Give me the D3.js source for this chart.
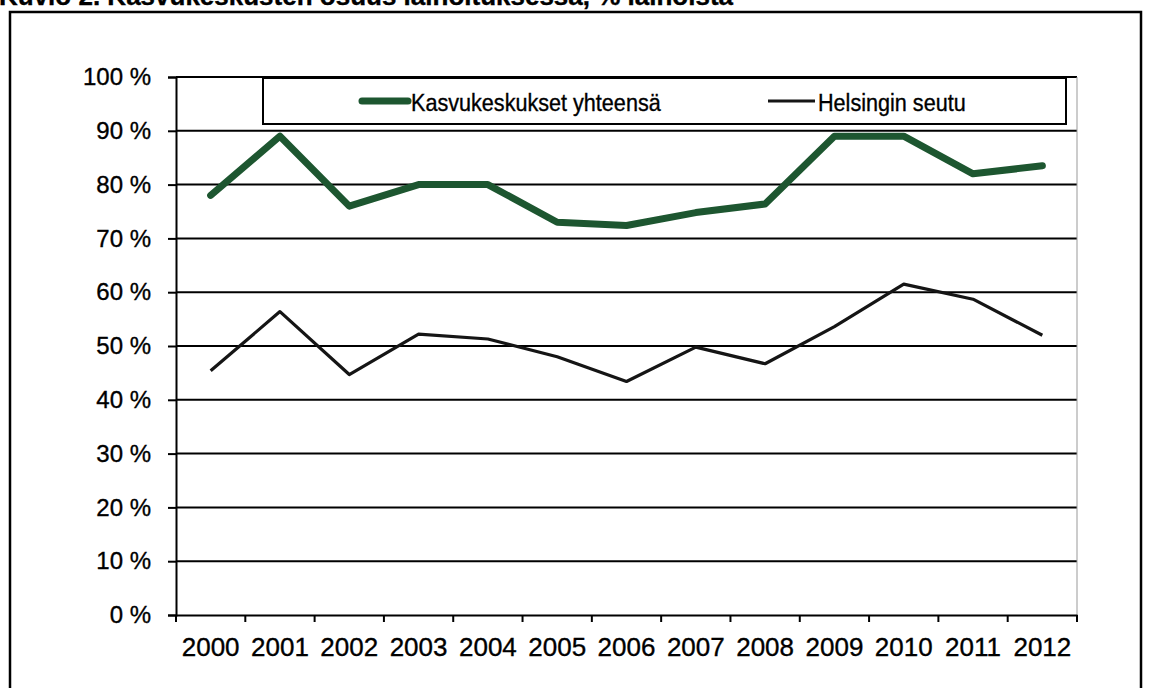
<!DOCTYPE html>
<html>
<head>
<meta charset="utf-8">
<script src="https://cdn.jsdelivr.net/npm/d3@7"></script>
<style>
  html, body { margin: 0; padding: 0; background: #fff; }
  svg { display: block; }
  text { font-family: "Liberation Sans", Arial, Helvetica, sans-serif; fill: #000; stroke: #000; stroke-width: 0.35px; }
</style>
</head>
<body>
<svg id="chart" width="1153" height="688"></svg>
<script>
// Years on the category axis
const years = ["2000","2001","2002","2003","2004","2005","2006","2007","2008","2009","2010","2011","2012"];
// Share of lending, %
const kasvukeskukset = [78, 89, 76, 80, 80, 73, 72.4, 74.8, 76.4, 89, 89, 82, 83.5];
const helsinginSeutu = [45.4, 56.4, 44.7, 52.2, 51.3, 48.0, 43.4, 49.8, 46.7, 53.6, 61.5, 58.7, 52.0];
// Axis ticks
const yTicks = [0, 10, 20, 30, 40, 50, 60, 70, 80, 90, 100];
const seriesNames = ["Kasvukeskukset yhteensä", "Helsingin seutu"];
const titleText = "Kuvio 2. Kasvukeskusten osuus lainoituksessa, % lainoista";

const svg = d3.select("#chart");

const plot = { left: 176, right: 1077, top: 77, bottom: 615 };

const x = d3.scaleBand().domain(years).range([plot.left, plot.right]).padding(0);
const y = d3.scaleLinear().domain([0, 100]).range([plot.bottom, plot.top]);

// Title (runs off the top edge)
svg.append("text")
  .attr("x", -1).attr("y", 5)
  .attr("font-size", 26).attr("font-weight", "bold")
  .text(titleText);

// Outer frame around the figure
svg.append("rect")
  .attr("x", 10).attr("y", 12)
  .attr("width", 1131).attr("height", 720)
  .attr("fill", "none").attr("stroke", "#000").attr("stroke-width", 2.5);

// Horizontal gridlines
svg.append("g")
  .selectAll("line")
  .data(yTicks.filter(d => d > 0))
  .join("line")
  .attr("x1", plot.left).attr("x2", plot.right)
  .attr("y1", d => y(d)).attr("y2", d => y(d))
  .attr("stroke", "#000").attr("stroke-width", 2);

// Right edge of the plot area
svg.append("line")
  .attr("x1", plot.right).attr("x2", plot.right)
  .attr("y1", plot.top).attr("y2", plot.bottom)
  .attr("stroke", "#999").attr("stroke-width", 1);

// Y axis
const yAxis = svg.append("g")
  .attr("transform", `translate(${plot.left},0)`)
  .call(d3.axisLeft(y).tickValues(yTicks).tickFormat(d => d + " %").tickSize(8).tickPadding(17));
yAxis.select(".domain").attr("stroke", "#000").attr("stroke-width", 2);
yAxis.selectAll(".tick line").attr("stroke", "#000").attr("stroke-width", 2);
yAxis.selectAll(".tick text").attr("font-size", 24).attr("font-family", null);

// X axis with labels at category centres
const xAxis = svg.append("g")
  .attr("transform", `translate(0,${plot.bottom})`)
  .call(d3.axisBottom(x).tickSizeInner(0).tickSizeOuter(0).tickPadding(23));
xAxis.select(".domain").attr("stroke", "#000").attr("stroke-width", 2);
xAxis.selectAll(".tick text").attr("font-size", 26).attr("font-family", null);

// Tick marks on category boundaries
const boundaries = years.map(d => x(d)).concat([x.range()[1]]);
svg.append("g")
  .selectAll("line")
  .data(boundaries)
  .join("line")
  .attr("x1", d => d).attr("x2", d => d)
  .attr("y1", plot.bottom).attr("y2", plot.bottom + 7)
  .attr("stroke", "#000").attr("stroke-width", 2);

// Series lines
const lineGen = d3.line()
  .x((d, i) => x(years[i]) + x.bandwidth() / 2)
  .y(d => y(d));

svg.append("path")
  .datum(helsinginSeutu)
  .attr("d", lineGen)
  .attr("fill", "none").attr("stroke", "#151515").attr("stroke-width", 3.2)
  .attr("stroke-linejoin", "round").attr("stroke-linecap", "butt");

svg.append("path")
  .datum(kasvukeskukset)
  .attr("d", lineGen)
  .attr("fill", "none").attr("stroke", "#1d5630").attr("stroke-width", 7)
  .attr("stroke-linejoin", "round").attr("stroke-linecap", "round");

// Legend
const legend = svg.append("g");
legend.append("rect")
  .attr("x", 263).attr("y", 78).attr("width", 803).attr("height", 46)
  .attr("fill", "#fff").attr("stroke", "#000").attr("stroke-width", 2);

legend.append("line")
  .attr("x1", 362).attr("x2", 408).attr("y1", 101).attr("y2", 101)
  .attr("stroke", "#1d5630").attr("stroke-width", 7).attr("stroke-linecap", "round");
legend.append("text")
  .attr("transform", "translate(411,111) scale(0.9,1)")
  .attr("font-size", 24)
  .text(seriesNames[0]);

legend.append("line")
  .attr("x1", 768).attr("x2", 815).attr("y1", 101).attr("y2", 101)
  .attr("stroke", "#151515").attr("stroke-width", 3.2);
legend.append("text")
  .attr("transform", "translate(818,111) scale(0.9,1)")
  .attr("font-size", 24)
  .text(seriesNames[1]);
</script>
</body>
</html>
